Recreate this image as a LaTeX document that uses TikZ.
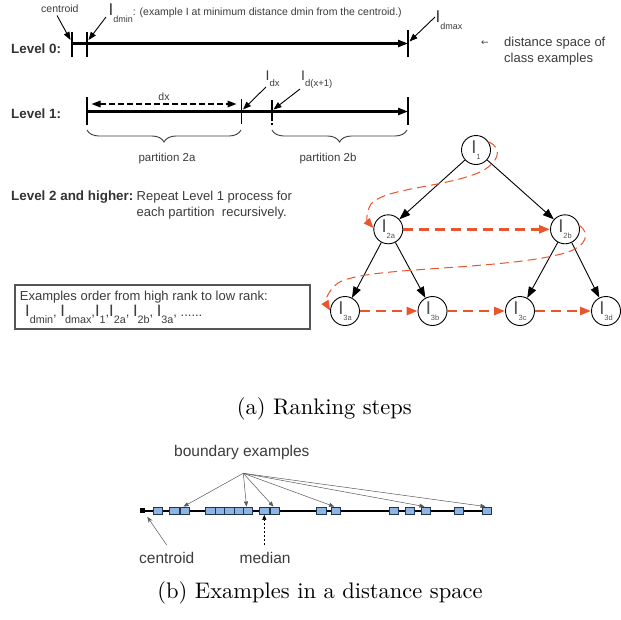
\documentclass[tikz,border=0pt]{standalone}
\usepackage{fontspec}
\setsansfont{Liberation Sans}
\newfontfamily\symfont{DejaVu Sans}
\newfontfamily\capfont{lmroman10-regular.otf}
\usetikzlibrary{arrows.meta,decorations.pathreplacing}
\definecolor{txt}{HTML}{3C3C3C}
\definecolor{lvlc}{HTML}{333333}
\definecolor{igray}{HTML}{555555}
\definecolor{org}{HTML}{E8562D}
\definecolor{boxblue}{HTML}{8DB4E2}
\definecolor{boxedge}{HTML}{1F3550}
\definecolor{boxgray}{HTML}{555555}
\newcommand\Isb[4]{{\fontsize{#1}{#1}\selectfont I}\raisebox{-#3}{\fontsize{#2}{#2}\selectfont #4}}
\newcommand\Ibx[1]{{\fontsize{16.5}{16.5}\selectfont I}\raisebox{-7pt}{\fontsize{10.8}{10.8}\selectfont #1}}
\newcommand\Inode[1]{{\fontsize{18.5}{18.5}\selectfont I}\raisebox{-5.5pt}{\smash{\fontsize{7.5}{7.5}\selectfont #1}}}
\tikzset{
  lbl/.style={font=\sffamily\fontsize{13}{15}\selectfont, text=txt, inner sep=0pt, anchor=base west},
  lvl/.style={font=\sffamily\bfseries\fontsize{13.4}{15}\selectfont, text=lvlc, inner sep=0pt, anchor=base west},
  small/.style={font=\sffamily\fontsize{10.5}{12}\selectfont, text=txt, inner sep=0pt, anchor=base west},
  part/.style={font=\sffamily\fontsize{11.5}{13}\selectfont, text=txt, inner sep=0pt, anchor=base},
  big/.style={font=\sffamily\fontsize{15.5}{18}\selectfont, text=txt, inner sep=0pt, anchor=base west},
  ilabel/.style={font=\sffamily, text=txt, inner sep=0pt, anchor=base west},
  ann/.style={-{Triangle[length=8pt,width=6pt]}, line width=0.9pt},
  axis/.style={line width=2.2pt, -{Triangle[length=10pt,width=7pt]}},
  tickl/.style={line width=1.1pt},
  bracel/.style={decorate, decoration={brace, amplitude=12pt}, line width=0.9pt, draw=txt},
  tnode/.style={circle, draw, line width=0.9pt, minimum size=29pt, inner sep=0pt, font=\sffamily, text=igray},
  tedge/.style={-{Triangle[length=11pt,width=8pt]}, line width=0.9pt},
  seq/.style={draw=org, line width=2.4pt, dash pattern=on 10pt off 6pt, -{Triangle[length=11pt,width=8pt,fill=org]}},
  loopa/.style={draw=org, line width=1pt, dash pattern=on 9pt off 5pt, -{Triangle[length=10pt,width=8pt,fill=org]}},
  ex/.style={rectangle, draw=boxedge, fill=boxblue, minimum width=9.3pt, minimum height=7.5pt, inner sep=0pt, line width=0.8pt},
  barrow/.style={-{Triangle[length=5pt,width=4pt]}, line width=0.5pt, draw=black!65},
  captxt/.style={anchor=base, inner sep=0pt, font=\capfont\fontsize{22.5}{26}\selectfont},
}
\begin{document}
\begin{tikzpicture}[x=1pt,y=-1pt]
\path[use as bounding box, fill=white] (0,0) rectangle (621,619);

% ---------- Level 0 ----------
\node[lvl] (lv0) at (11,53.3) {Level 0:};
\node[small] (cen0) at (41,12.7) {centroid};
\node[ilabel] (idmin) at (108.5,15.7) {\Isb{17}{9}{6.5pt}{dmin}{\fontsize{10.5}{12}\selectfont: (example I at minimum distance dmin from the centroid.)}};
\node[ilabel] (idmax) at (435.5,22) {\Isb{17}{9}{7.5pt}{dmax}};
\node[inner sep=0pt, font=\symfont\fontsize{9}{9}\selectfont, text=txt] (larr) at (485,43) {←};
\node[lbl] (dsp1) at (504,46.7) {distance space of};
\node[lbl] (dsp2) at (504,62) {class examples};

\coordinate (L0a) at (72,43.5);
\coordinate (L0b) at (408,43.5);
\draw[axis] (L0a) -- (L0b);
\draw[tickl] (72,31.5) -- (72,57);
\draw[tickl] (87,32) -- (87,57);
\draw[tickl] (408,30) -- (408,57);

\coordinate (c0s) at (57,15.5);
\coordinate (c0e) at (70.5,40);
\draw[ann] (c0s) -- (c0e);
\coordinate (dmins) at (106,17);
\coordinate (dmine) at (88.5,40);
\draw[ann] (dmins) -- (dmine);
\coordinate (dmaxs) at (435,17);
\coordinate (dmaxe) at (409.5,41.5);
\draw[ann] (dmaxs) -- (dmaxe);

% ---------- Level 1 ----------
\node[lvl] (lv1) at (11,118.5) {Level 1:};
\coordinate (L1a) at (87,111.5);
\coordinate (L1b) at (408,111.5);
\draw[axis] (L1a) -- (L1b);
\draw[tickl] (87,97) -- (87,125);
\draw[tickl] (241.5,99) -- (241.5,123.5);
\draw[line width=1.8pt] (271.7,100) -- (271.7,120.5);
\draw[line width=1.8pt] (271.7,122.5) -- (271.7,124.5);
\draw[tickl] (408,97) -- (408,125);

\coordinate (dxa) at (91.5,104);
\coordinate (dxb) at (236.5,104);
\draw[line width=1.6pt, dash pattern=on 6pt off 3pt, {Triangle[length=9pt,width=6.5pt]}-{Triangle[length=9pt,width=6.5pt]}] (dxa) -- (dxb);
\node[small, anchor=base] (dxl) at (164,100) {dx};

\node[ilabel] (idx) at (265.5,80) {\Isb{14}{9.5}{6pt}{dx}};
\node[ilabel] (idx1) at (301,80) {\Isb{14}{9.5}{6pt}{d(x+1)}};
\coordinate (dxs) at (266,87);
\coordinate (dxe) at (243,109.5);
\draw[ann] (dxs) -- (dxe);
\coordinate (dx1s) at (300,89);
\coordinate (dx1e) at (273.5,109.5);
\draw[ann] (dx1s) -- (dx1e);

\draw[bracel] (241,130) -- (87,130);
\draw[bracel] (407,130) -- (272,130);
\node[part] (p2a) at (167,161.5) {partition 2a};
\node[part] (p2b) at (328,161.5) {partition 2b};

% ---------- Level 2 ----------
\node[lvl] (lv2) at (11,200) {Level 2 and higher:};
\node[lbl] (rep1) at (136.5,200) {Repeat Level 1 process for};
\node[lbl] (rep2) at (136.5,216.5) {each partition\ \ recursively.};

% ---------- order box ----------
\draw[draw=boxgray, line width=1.3pt] (15,285) rectangle (310,329);
\node[lbl] (ord1) at (19.7,300) {Examples order from high rank to low rank:};
\node[lbl] (ord2) at (25,316.7) {\Ibx{dmin}, \Ibx{dmax},\Ibx{1},\Ibx{2a}, \Ibx{2b}, \Ibx{3a}, ......};

% ---------- tree ----------
\node[tnode] (n1) at (476,150) {\Inode{1}};
\node[tnode] (n2a) at (388.3,229.3) {\Inode{2a}};
\node[tnode] (n2b) at (565,229.3) {\Inode{2b}};
\node[tnode] (n3a) at (345,311) {\Inode{3a}};
\node[tnode] (n3b) at (432.5,311) {\Inode{3b}};
\node[tnode] (n3c) at (520,311) {\Inode{3c}};
\node[tnode] (n3d) at (606,311) {\Inode{3d}};

\draw[tedge] (n1) -- (n2a);
\draw[tedge] (n1) -- (n2b);
\draw[tedge] (n2a) -- (n3a);
\draw[tedge] (n2a) -- (n3b);
\draw[tedge] (n2b) -- (n3c);
\draw[tedge] (n2b) -- (n3d);

\draw[seq] (n2a) -- (n2b);
\draw[seq] (n3a) -- (n3b);
\draw[seq] (n3b) -- (n3c);
\draw[seq] (n3c) -- (n3d);

\draw[loopa] (n1.33) .. controls (503,148) and (500,163) .. (478,173)
  .. controls (440,188) and (385,188) .. (371,204)
  .. controls (366,212) and (367,221) .. (n2a.175);
\draw[loopa] (n2b.15) .. controls (590,233) and (588,246) .. (565,253)
  .. controls (500,271) and (365,266) .. (338,283)
  .. controls (328,290) and (325,302) .. (n3a.178);

% ---------- part (b) ----------
\node[big] (bex) at (174,456.3) {boundary examples};
\coordinate (apex) at (243.3,473.3);
\node[fill=black, minimum size=5pt, inner sep=0pt] (c) at (142.5,510.7) {};
\foreach \i/\x in {1/158,2/174.3,3/185,4/210.3,5/220,6/229.3,7/238.7,8/248,9/264.3,10/275,11/321.3,12/335.7,13/393.7,14/410,15/426,16/459,17/487}
  \coordinate (q\i) at (\x,510.7);
\draw[line width=1.8pt] (c.center) -- (491.7,510.7);
\foreach \i in {1,...,17}
  \node[ex] (e\i) at (q\i) {};
\foreach \i in {3,8,10,12,15,17}
  \draw[barrow] (apex) -- ([xshift=-1.5pt]e\i.north);

\node[big] (cenb) at (139,563.5) {centroid};
\node[big] (med) at (239.5,563.5) {median};
\coordinate (cs) at (166.7,545);
\coordinate (ce) at (147.3,516.8);
\draw[-{Stealth[length=6pt,width=4.5pt]}, line width=0.5pt, draw=black!65] (cs) -- (ce);
\coordinate (ms) at (264.3,545);
\draw[-{Triangle[length=5pt,width=4pt]}, line width=0.6pt, dash pattern=on 2.5pt off 1.5pt] (ms) -- (e9.south);

% ---------- captions ----------
\node[captxt] (capa) at (324.3,414) {(a)\ Ranking steps};
\node[captxt] (capb) at (320,598) {(b)\ Examples in a distance space};
\end{tikzpicture}
\end{document}
